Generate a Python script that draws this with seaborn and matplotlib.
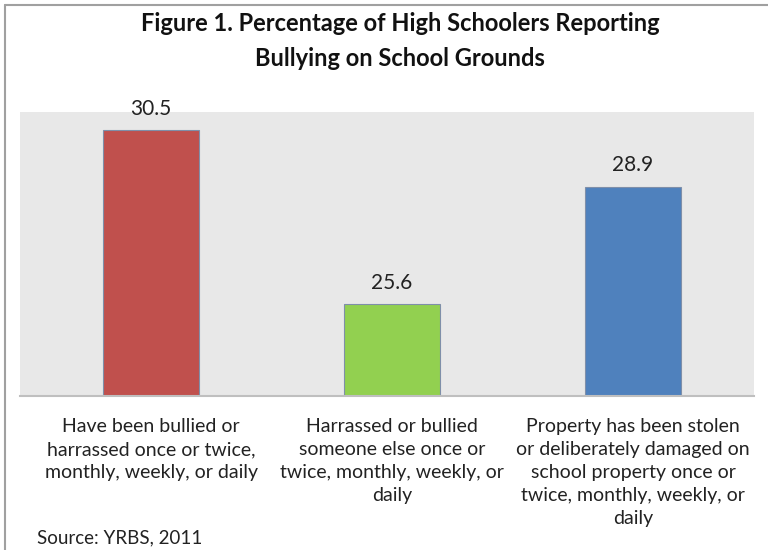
import matplotlib
matplotlib.use("Agg")
import matplotlib.pyplot as plt
from matplotlib.lines import Line2D
import pandas as pd
import seaborn as sns

# 数据
categories = [
    "Have been bullied or\nharrassed once or twice,\nmonthly, weekly, or daily",
    "Harrassed or bullied\nsomeone else once or\ntwice, monthly, weekly, or\ndaily",
    "Property has been stolen\nor deliberately damaged on\nschool property once or\ntwice, monthly, weekly, or\ndaily",
]
values = [30.5, 25.6, 28.9]
bar_colors = ["#C0504D", "#92D050", "#4F81BD"]

title = "Figure 1. Percentage of High Schoolers Reporting\nBullying on School Grounds"
source = "Source: YRBS, 2011"

sns.set_theme(style="white")
plt.rcParams["font.family"] = ["Lato", "DejaVu Sans"]

df = pd.DataFrame({"cat": categories, "val": values})

fig = plt.figure(figsize=(7.68, 5.5), dpi=100)
ax = fig.add_axes([20 / 768, 1 - 396 / 550, 734 / 768, 284 / 550])
ax.set_facecolor("#E8E8E8")

sns.barplot(data=df, x="cat", y="val", hue="cat", palette=bar_colors,
            width=0.4, saturation=1, edgecolor="#7F8FA9", linewidth=0.8,
            legend=False, ax=ax)

ax.set_xlim(-0.544, 2.502)
ax.set_ylim(23, 31)
ax.set_yticks([])
ax.set_xlabel("")
ax.set_ylabel("")
for side in ["top", "right", "left"]:
    ax.spines[side].set_visible(False)
ax.spines["bottom"].set_color("#BFBFBF")
ax.spines["bottom"].set_linewidth(1.5)

ax.tick_params(axis="x", length=0, pad=16)
for lbl in ax.get_xticklabels():
    lbl.set_fontsize(14)
    lbl.set_color("#222222")
    lbl.set_linespacing(1.42)

# 数值标签
for patch, v in zip(ax.patches, values):
    ax.annotate(f"{v:.1f}", (patch.get_x() + patch.get_width() / 2, v),
                xytext=(0, 8), textcoords="offset points",
                ha="center", va="bottom", fontsize=15, color="#222222")

fig.text(400 / 768, 1 - 41 / 550, title, ha="center", va="center",
         fontsize=17, fontweight="bold", linespacing=1.6, color="#111111")
fig.text(37 / 768, 1 - 538 / 550, source, ha="left", va="center",
         fontsize=13.5, color="#222222")

# 外框
fig.add_artist(Line2D([5 / 768, 5 / 768], [0, 1 - 5 / 550],
                      transform=fig.transFigure, color="#A0A0A0", lw=1.5))
fig.add_artist(Line2D([5 / 768, 1], [1 - 5 / 550, 1 - 5 / 550],
                      transform=fig.transFigure, color="#A0A0A0", lw=1.5))

fig.savefig("out.png", dpi=100)
